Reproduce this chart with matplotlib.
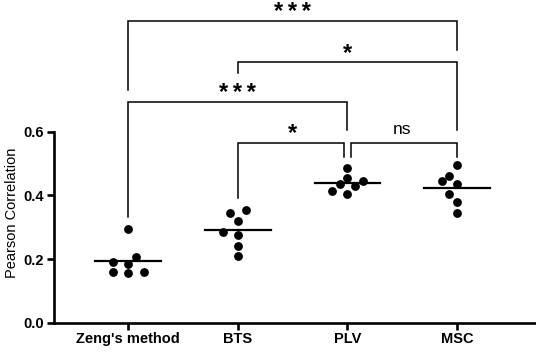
import numpy as np
import matplotlib
matplotlib.use("Agg")
import matplotlib.pyplot as plt

plt.rcParams['font.family'] = ['Liberation Sans', 'DejaVu Sans']

# データ
groups = ["Zeng's method", "BTS", "PLV", "MSC"]
zeng = [0.295, 0.205, 0.185, 0.191, 0.155, 0.159, 0.160]
bts = [0.355, 0.346, 0.320, 0.285, 0.275, 0.241, 0.210]
plv = [0.485, 0.456, 0.444, 0.436, 0.429, 0.415, 0.405]
msc = [0.494, 0.461, 0.444, 0.436, 0.405, 0.379, 0.345]
values = [zeng, bts, plv, msc]

y_ticks = [0.0, 0.2, 0.4, 0.6]

# 有意差の表示 (左群, 右群, 表示)
comparisons = [(0, 3, "***"), (1, 3, "*"), (0, 2, "***"), (1, 2, "*"), (2, 3, "ns")]

fig = plt.figure(figsize=(5.36, 3.53), dpi=100)
ax = fig.add_axes([54 / 536, 30.3 / 353, 1 - 54 / 536, 322.7 / 353])
ax.set_xlim(-0.678, 3.72)
ax.set_ylim(0, 1.014)

# 簡単なビースウォーム配置(ピクセル単位で重なりを避ける)
def swarm(xc, ys, diam=9.0, step=7.7):
    pts = ax.transData.transform([(xc, y) for y in ys])
    placed = []
    offs = [0.0]
    for k in range(1, 10):
        offs += [-k * step, k * step]
    res = [None] * len(ys)
    for idx in np.argsort(ys):
        px, py = pts[idx]
        for o in offs:
            ok = True
            for qx, qy in placed:
                if (px + o - qx) ** 2 + (py - qy) ** 2 < diam ** 2:
                    ok = False
                    break
            if ok:
                placed.append((px + o, py))
                res[idx] = (px + o, py)
                break
    data = ax.transData.inverted().transform(res)
    return data[:, 0], data[:, 1]

for i, v in enumerate(values):
    xs, ys = swarm(i, v)
    ax.scatter(xs, ys, s=40, color='black', zorder=3, linewidths=0)
    m = np.mean(v)
    ax.plot([i - 0.3, i + 0.3], [m, m], color='black', lw=1.6, zorder=2)

# ブラケット
brackets = [
    # (x左, x右, 横線の高さ, 左脚の下端, 右脚の下端)
    (0, 3, 0.948, 0.731, 0.857),
    (1, 3, 0.820, 0.785, 0.606),
    (0, 2, 0.694, 0.333, 0.606),
    (1, 1.966, 0.566, 0.391, 0.522),
    (2.03, 3, 0.566, 0.522, 0.522),
]
label_y = [0.975, 0.847, 0.721, 0.593, 0.608]
for (xl, xr, yb, ll, rl), (a, b, lab), ly in zip(brackets, comparisons, label_y):
    ax.plot([xl, xl, xr, xr], [ll, yb, yb, rl], color='black', lw=1.1,
            solid_joinstyle='miter', clip_on=False)
    if lab == "ns":
        ax.text((a + b) / 2, ly, lab, ha='center', va='center', fontsize=12.5)
    else:
        ax.text((a + b) / 2, ly, "\u2009".join(lab), ha='center', va='center',
                fontsize=17, fontweight='bold')

ax.spines['top'].set_visible(False)
ax.spines['right'].set_visible(False)
ax.spines['left'].set_bounds(0, 0.6)
ax.spines['left'].set_linewidth(1.9)
ax.spines['bottom'].set_linewidth(1.9)

ax.set_xticks(range(len(groups)))
ax.set_xticklabels(groups, fontweight='bold', fontsize=10.5)
ax.set_yticks(y_ticks)
ax.set_yticklabels(["%.1f" % t for t in y_ticks], fontweight='bold', fontsize=10.5)
ax.tick_params(axis='both', length=5, width=1.9, pad=2)

ax.set_ylabel("Pearson Correlation", fontsize=10.5)
ax.yaxis.set_label_coords(-0.072, 0.341)

fig.savefig("out.png", dpi=100)
